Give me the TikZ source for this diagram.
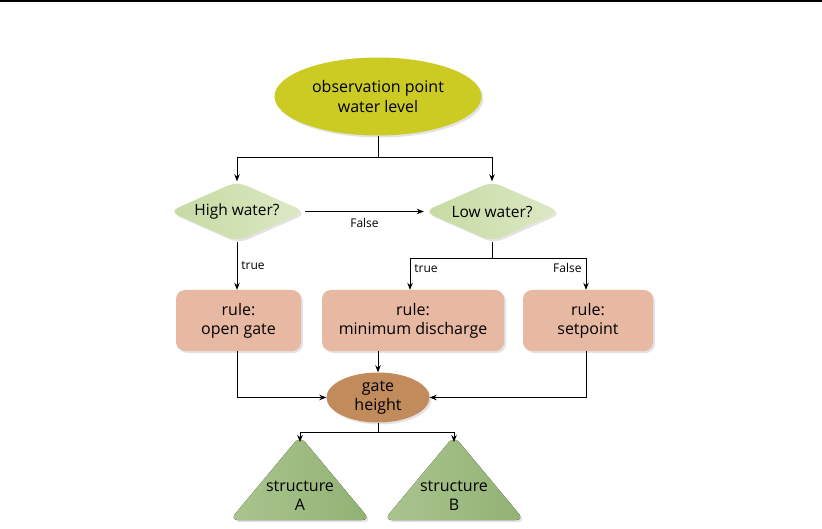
\documentclass[tikz,border=0pt]{standalone}
\usepackage{fontspec}
\setmainfont{Open Sans}
\usetikzlibrary{shapes.geometric,arrows.meta,shadows}
\definecolor{obsfill}{HTML}{CBCB24}
\definecolor{diaL}{HTML}{C6DAA2}
\definecolor{diaR}{HTML}{DDE8C4}
\definecolor{rulefill}{HTML}{E7B8A2}
\definecolor{gatefill}{HTML}{C28B5C}
\definecolor{triL}{HTML}{AAC58F}
\definecolor{triR}{HTML}{92B173}
\begin{document}
\begin{tikzpicture}[x=1pt,y=-1pt,
  conn/.style={line width=0.8pt, -{Stealth[length=7pt,width=5.5pt]}},
  plain/.style={line width=0.8pt},
  shad/.style={drop shadow={opacity=0.22, shadow xshift=2pt, shadow yshift=-2pt}},
  obsnode/.style={ellipse, fill=obsfill, shad, minimum width=207pt, minimum height=78pt, align=center, font=\fontsize{16}{20}\selectfont, inner sep=0pt},
  decide/.style={diamond, aspect=2.3, left color=diaL, right color=diaR, shad, minimum width=136pt, minimum height=60pt, rounded corners=10pt, font=\fontsize{15.5}{18}\selectfont, inner sep=0pt},
  rulebox/.style={rectangle, fill=rulefill, rounded corners=9pt, shad, minimum height=61pt, align=center, font=\fontsize{16}{19}\selectfont},
  gatenode/.style={ellipse, fill=gatefill, shad, minimum width=103pt, minimum height=50pt, align=center, font=\fontsize{16}{19}\selectfont, inner sep=0pt},
  lbl/.style={font=\fontsize{12}{13}\selectfont, inner sep=1pt},
  tritext/.style={align=center, font=\fontsize{16}{19}\selectfont}
]
\useasboundingbox (0,0) rectangle (822,529);
\draw[line width=1.2pt] (0,1) -- (822,1);

% top ellipse
\node[obsnode] (obs) at (378,96.5) {observation point\\water level};

% diamonds
\node[decide] (high) at (237,211.5) {High water?};
\node[decide] (low) at (492,211.5) {Low water?};

% rule boxes
\node[rulebox, minimum width=125pt] (open) at (238.5,320.5) {rule:\\open gate};
\node[rulebox, minimum width=182pt] (mind) at (413,320.5) {rule:\\minimum discharge};
\node[rulebox, minimum width=130pt] (setp) at (588,320.5) {rule:\\setpoint};

% gate height
\node[gatenode] (gate) at (378,397.5) {gate\\height};

% triangles
\fill[left color=triL, right color=triR, rounded corners=8pt, shad]
  (300,436) -- (370,520) -- (230,520) -- cycle;
\fill[left color=triL, right color=triR, rounded corners=8pt, shad]
  (454,436) -- (524,520) -- (384,520) -- cycle;
\coordinate (triA) at (300,442);
\coordinate (triB) at (454,442);
\node[tritext] (tA) at (300,496) {structure\\A};
\node[tritext] (tB) at (454,496) {structure\\B};

% junction coordinates
\coordinate (j1) at (378,157);
\coordinate (j2) at (492,258);
\coordinate (j3) at (378,432);

% connectors
\draw[plain] (obs.south) -- (j1);
\draw[conn] (j1) -| (high.north);
\draw[conn] (j1) -| (low.north);
\draw[conn] (high.east) -- node[lbl, below=5pt] {False} (low.west);
\draw[conn] (high.south) -- node[lbl, right=3pt, pos=0.5] {true} (high.south |- open.north);
\draw[plain] (low.south) -- (j2);
\draw[conn] (j2) -| node[lbl, pos=0.66, right=3pt] {true} (mind.north -| 410,0);
\draw[conn] (j2) -| node[lbl, pos=0.66, left=3pt] {False} (setp.north -| 586,0);
\draw[conn] (open.south -| 237,0) |- (gate.west);
\draw[conn] (setp.south -| 586,0) |- (gate.east);
\draw[conn] (mind.south -| gate.north) -- (gate.north);
\draw[plain] (gate.south) -- (j3);
\draw[conn] (j3) -| (triA);
\draw[conn] (j3) -| (triB);
\end{tikzpicture}
\end{document}
